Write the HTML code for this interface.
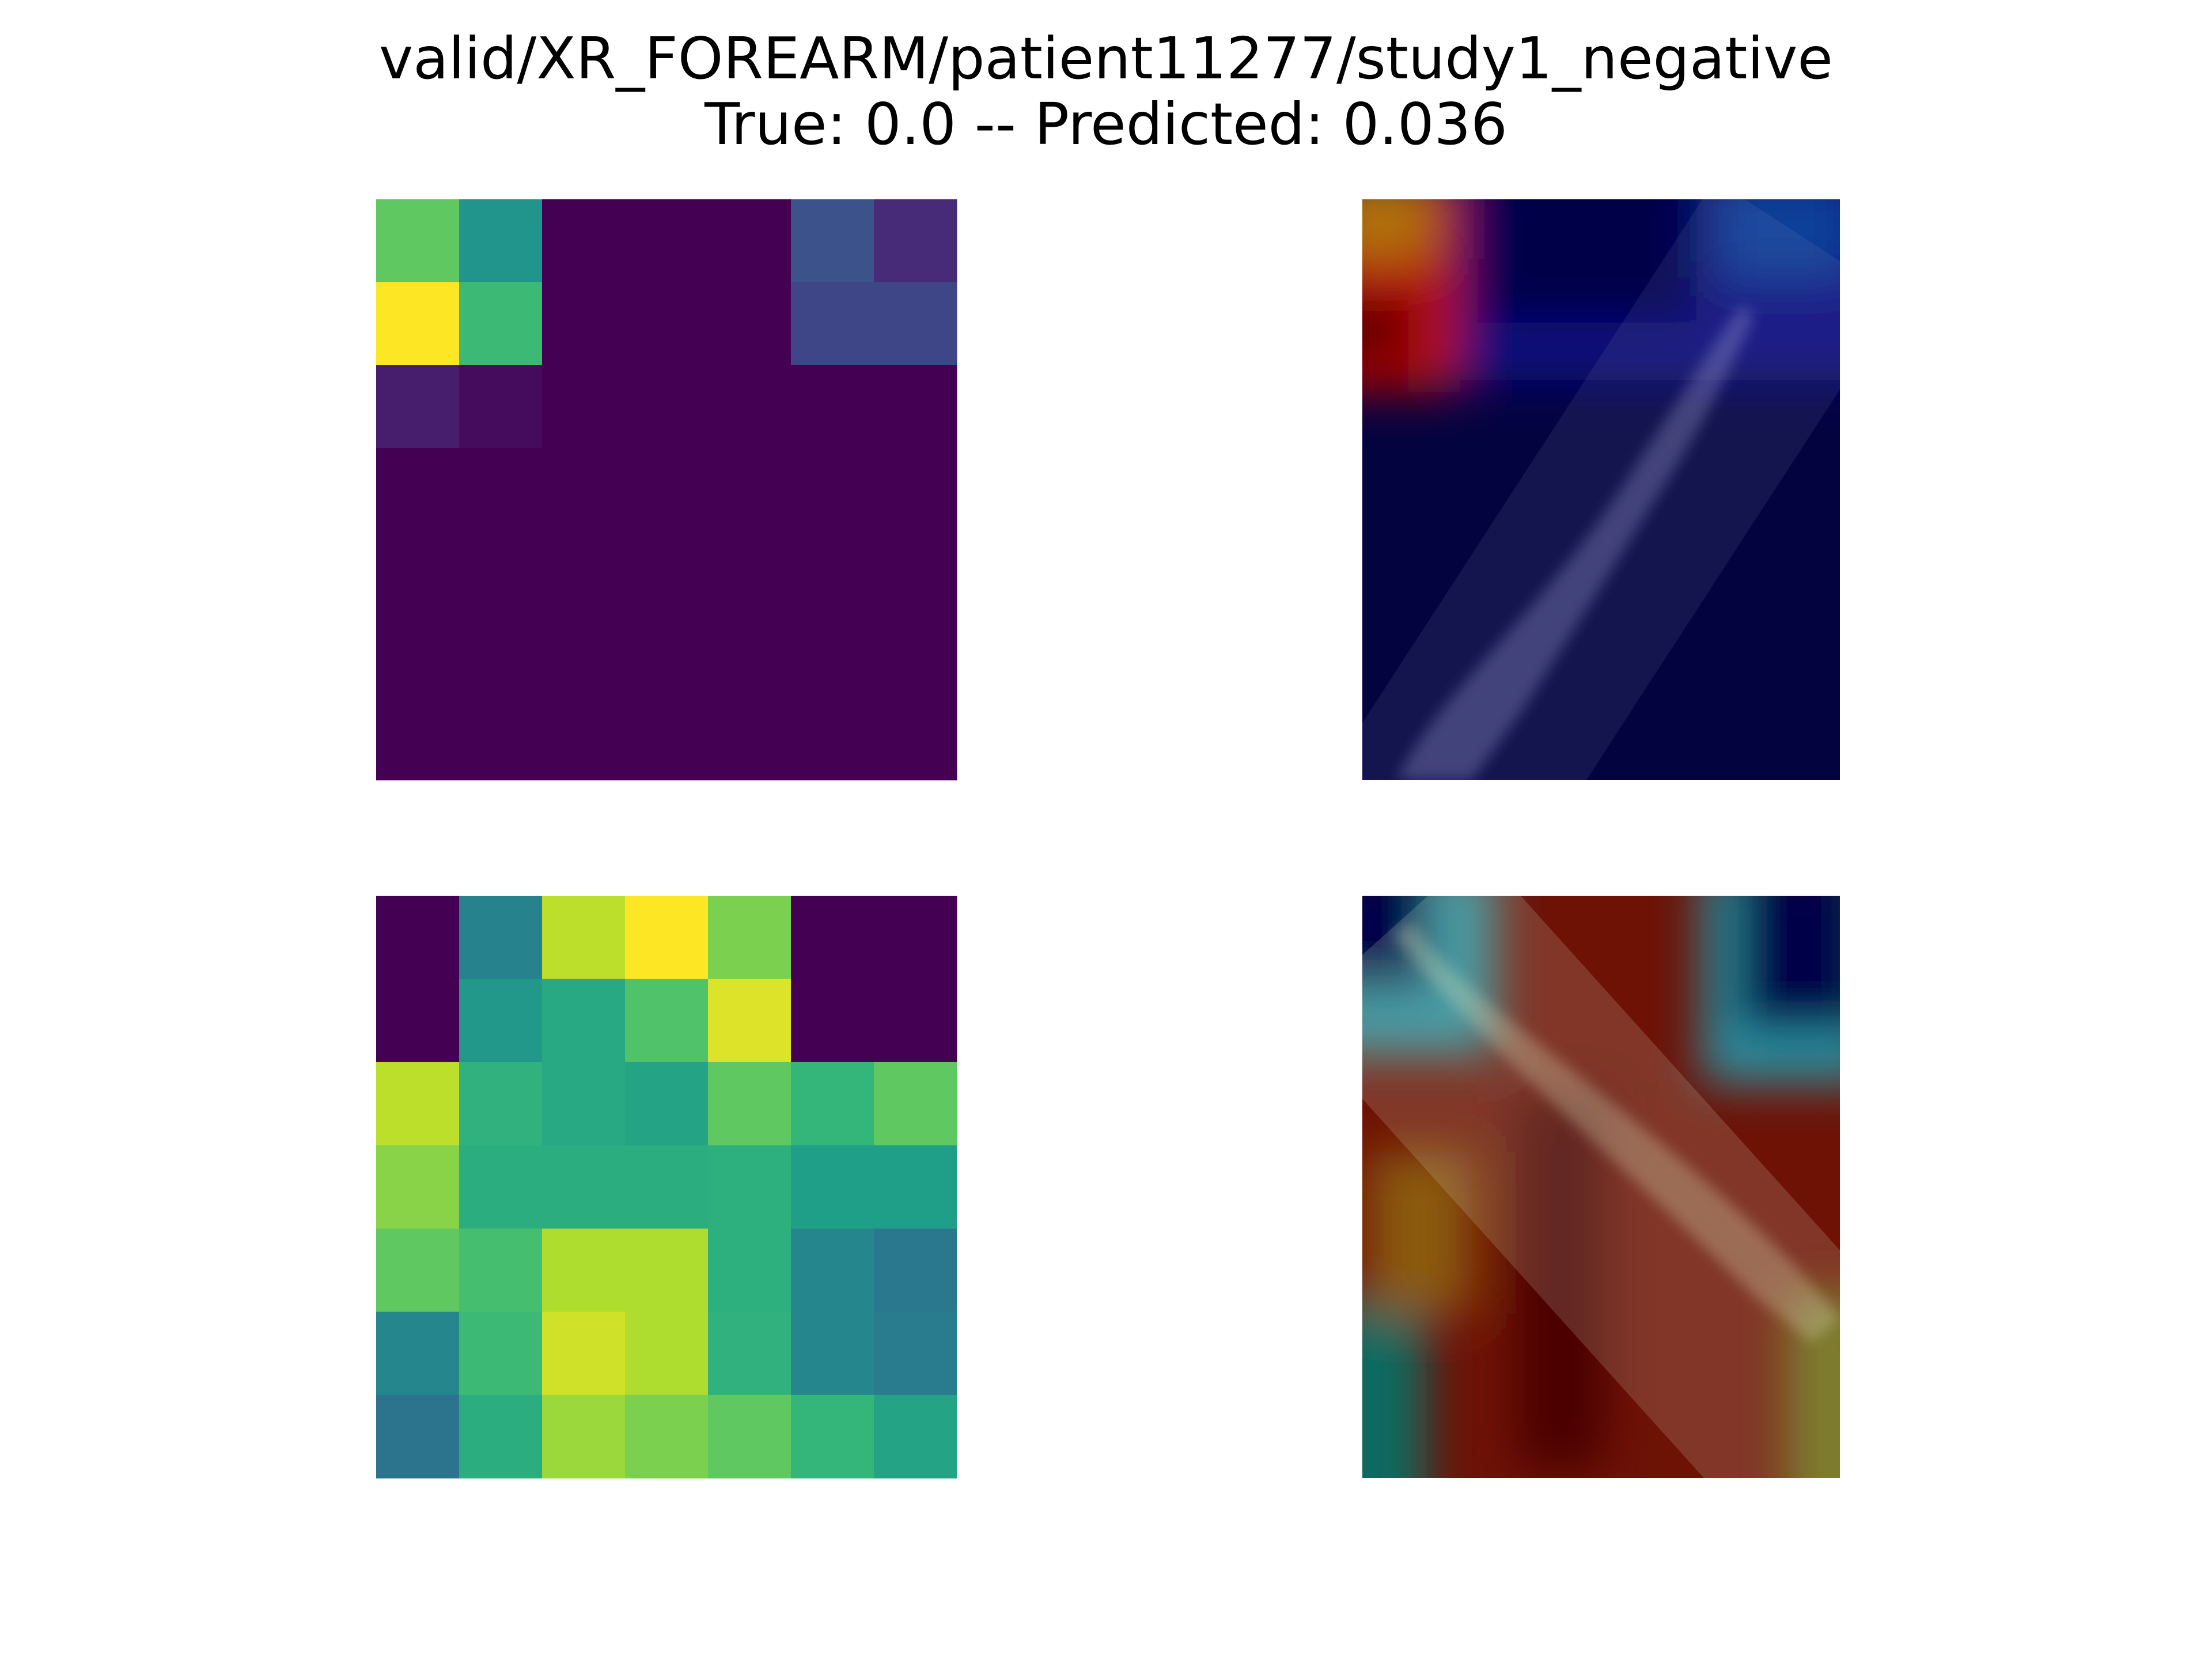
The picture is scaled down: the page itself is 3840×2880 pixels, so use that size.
<!DOCTYPE html>
<html><head><meta charset="utf-8"><style>
html,body{margin:0;padding:0;background:#fff;}
#wrap{position:relative;width:3840px;height:2880px;overflow:hidden;font-family:"Liberation Sans","DejaVu Sans",sans-serif;}
.t{position:absolute;left:0;width:3840px;text-align:center;font-size:100px;color:#000;font-family:"DejaVu Sans","Liberation Sans",sans-serif;line-height:1;}
svg{position:absolute;left:0;top:0;}
</style></head><body>
<div id="wrap">
<div class="t" style="top:52px">valid/XR_FOREARM/patient11277/study1_negative</div>
<div class="t" style="top:166px">True: 0.0 -- Predicted: 0.036</div>
<svg id="svg" width="3840" height="2880">
<defs>
<filter id="b1" x="-50%" y="-50%" width="200%" height="200%"><feGaussianBlur stdDeviation="40"/></filter>
<filter id="b2" x="-50%" y="-50%" width="200%" height="200%"><feGaussianBlur stdDeviation="12"/></filter>
<clipPath id="c1"><rect x="2365" y="346" width="829" height="1008"/></clipPath>
<clipPath id="c2"><rect x="2365" y="1555" width="829" height="1011"/></clipPath>
</defs>
<g clip-path="url(#c1)">
<rect x="2365" y="346" width="829" height="1008" fill="#030340"/>
<g filter="url(#b1)">
<rect x="2300" y="300" width="980" height="360" fill="#080880"/>
<rect x="2565" y="300" width="380" height="260" fill="#04044a"/>
<rect x="2295" y="300" width="240" height="380" fill="#b01010"/>
<rect x="2295" y="300" width="190" height="150" fill="#b07010"/>
<rect x="2295" y="520" width="150" height="110" fill="#600000"/>
<rect x="2985" y="300" width="230" height="180" fill="#10409a"/>
</g>
<rect x="2655" y="300" width="380" height="1300" fill="#9090c0" opacity="0.12" transform="rotate(33 2795 850)"/>
<path d="M2425 1354 C2495 1200 2695 1050 2845 800 C2945 650 2995 560 3025 530 L3045 550 C3005 640 2945 760 2865 880 C2755 1060 2695 1150 2645 1230 L2555 1354 Z" fill="#b0b0e0" opacity="0.3" filter="url(#b2)"/>
</g>
<g clip-path="url(#c2)">
<rect x="2365" y="1555" width="829" height="1011" fill="#6e1206"/>
<g filter="url(#b1)">
<rect x="2295" y="1500" width="300" height="330" fill="#2a90a0"/>
<rect x="2295" y="1500" width="190" height="220" fill="#04044a"/>
<rect x="2955" y="1500" width="300" height="380" fill="#2a90a0"/>
<rect x="3015" y="1500" width="230" height="290" fill="#04044a"/>
<rect x="2295" y="2250" width="180" height="400" fill="#106a60"/>
<rect x="3105" y="2250" width="150" height="400" fill="#6a6a10"/>
<rect x="2375" y="2000" width="180" height="280" fill="#8a5a10"/>
<rect x="2635" y="1900" width="150" height="650" fill="#4a0400"/>
</g>
<rect x="2575" y="1480" width="440" height="1300" fill="#d8e0c0" opacity="0.18" transform="rotate(-42 2785 2060)"/>
<path d="M2415 1620 C2555 1800 2795 2000 3045 2250 L3145 2330 L3194 2290 C3095 2150 2845 1950 2595 1750 C2515 1680 2475 1640 2455 1600 Z" fill="#e0e8c0" opacity="0.3" filter="url(#b2)"/>
</g>
</svg>
</div>
<script>
const gridSize = 7;
const heatTop = [
[0.75,0.52,0,0,0,0.25,0.12],
[1.0,0.68,0,0,0,0.21,0.21],
[0.08,0.03,0,0,0,0,0],
[0,0,0,0,0,0,0],
[0,0,0,0,0,0,0],
[0,0,0,0,0,0,0],
[0,0,0,0,0,0,0]];
const heatBottom = [
[0,0.45,0.9,1.0,0.8,0,0],
[0,0.53,0.6,0.72,0.95,0,0],
[0.9,0.64,0.6,0.58,0.75,0.66,0.75],
[0.82,0.62,0.62,0.62,0.63,0.56,0.56],
[0.75,0.7,0.88,0.88,0.63,0.46,0.4],
[0.46,0.68,0.93,0.88,0.64,0.46,0.42],
[0.38,0.62,0.85,0.8,0.75,0.66,0.58]];
const vir=[[68,1,84],[72,40,120],[62,74,137],[49,104,142],[38,130,142],[31,158,137],[53,183,121],[109,205,89],[180,222,44],[253,231,37]];
function viridis(v){v=Math.max(0,Math.min(1,v));const p=v*9,i=Math.min(8,Math.floor(p)),f=p-i;
const c=vir[i].map((a,k)=>Math.round(a+(vir[i+1][k]-a)*f));return `rgb(${c[0]},${c[1]},${c[2]})`;}
const NS="http://www.w3.org/2000/svg",svg=document.getElementById('svg');
function drawHeat(data,x0,y0,w,h,name){
  const g=document.createElementNS(NS,'g');
  
  
  const cw=w/gridSize,ch=h/gridSize;
  data.forEach((row,r)=>row.forEach((v,c)=>{
    const rc=document.createElementNS(NS,'rect');
    rc.setAttribute('x',x0+c*cw);rc.setAttribute('y',y0+r*ch);
    rc.setAttribute('width',cw+0.5);rc.setAttribute('height',ch+0.5);
    rc.setAttribute('fill',viridis(v));
    
    
    g.appendChild(rc);
  }));
  svg.appendChild(g);
}
drawHeat(heatTop,653,346,1008,1008,'heatmap-top');
drawHeat(heatBottom,653,1555,1008,1011,'heatmap-bottom');
</script>
</body></html>
